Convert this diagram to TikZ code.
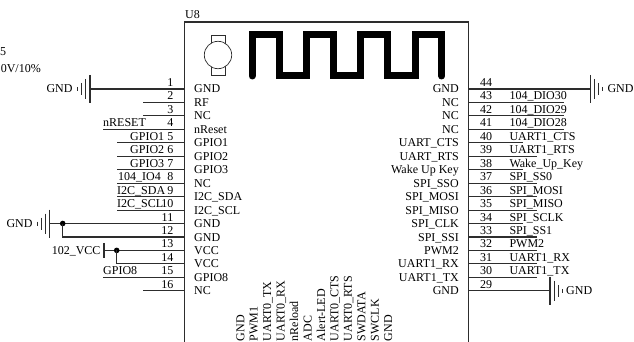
\documentclass[tikz,border=0pt]{standalone}
\usepackage{fontspec}
\setmainfont{Liberation Serif}
\definecolor{wiregray}{RGB}{45,45,45}
\usetikzlibrary{positioning}

\begin{document}
\begin{tikzpicture}[x=1pt, y=-1pt,
      every node/.style={inner sep=0pt, font=\fontsize{12}{14}\selectfont, text=black},
      wire/.style={draw=wiregray, line width=1.1pt},
      namel/.style={anchor=base west, yshift=-4pt},
      namer/.style={anchor=base east, yshift=-4pt},
      numl/.style={anchor=base east, yshift=2.5pt},
      numr/.style={anchor=base west, yshift=2.5pt},
      outl/.style={anchor=base west, yshift=2.5pt},
      botl/.style={anchor=base west, rotate=90},
      gndl/.style={anchor=base east, yshift=-4pt},
      gndr/.style={anchor=base west, yshift=-4pt},
      dot/.style={circle, fill=black, minimum size=5.6pt},
      gndsym/.pic={
        \draw[wiregray, line width=1.1pt] (0,-14) -- (0,14);
        \draw[wiregray, line width=1.1pt] (-4.2,-10) -- (-4.2,10);
        \draw[wiregray, line width=1.1pt] (-8.2,-6) -- (-8.2,6);
        \draw[wiregray, line width=1.1pt] (-12.2,-2) -- (-12.2,2);
      }
    ]
      \useasboundingbox (0,0) rectangle (634,342);

      % Text at the left edge
      \node[anchor=base west] (capa) at (0,56) {5};
      \node[anchor=base east] (capb) at (41,73) {0V/10\%};

      % Module outline
      \coordinate (bl) at (184.5,342);
      \coordinate (tl) at (184.5,22);
      \coordinate (tr) at (468.3,22);
      \coordinate (br) at (468.3,342);
      \draw[wire] (bl) -- (tl) -- (tr) -- (br);
      \node[anchor=base west] (u8) at (185,18.5) {U8};

      % Antenna and motor
      \draw[black, line width=7pt, line cap=round, miter limit=10] (252,76) -- (252,34.7) -- (279.3,34.7) -- (279.3,75.5) -- (306.5,75.5) -- (306.5,34.7) -- (333.5,34.7) -- (333.5,75.5) -- (360.7,75.5) -- (360.7,34.7) -- (387.7,34.7) -- (387.7,75.5) -- (415,75.5) -- (415,34.7) -- (441.7,34.7) -- (441.7,76);
      \draw[wiregray, line width=0.7pt] (211.3,35) rectangle (225,75);
      \draw[wiregray, line width=0.7pt, fill=white] (218,55) circle [radius=13.7pt];

      % Left pins
      \coordinate (pl1) at (184.5,89); \coordinate (el1) at (90,89);
      \draw[wire] (el1) -- (pl1);
      \pic at (el1) {gndsym};
      \node[gndl] (gl1) at (72.7,89) {GND};
      \node[numl] (nl1) at (173.5,89) {1};
      \node[namel] (tl1) at (194,89) {GND};

      \coordinate (pl2) at (184.5,102.5); \coordinate (el2) at (143,102.5);
      \draw[wire] (el2) -- (pl2);
      \node[numl] (nl2) at (173.5,102.5) {2};
      \node[namel] (tl2) at (194,102.5) {RF};

      \coordinate (pl3) at (184.5,115.9); \coordinate (el3) at (143,115.9);
      \draw[wire] (el3) -- (pl3);
      \node[numl] (nl3) at (173.5,115.9) {3};
      \node[namel] (tl3) at (194,115.9) {NC};

      \coordinate (pl4) at (184.5,129.4); \coordinate (el4) at (103,129.4);
      \draw[wire] (el4) -- (pl4);
      \node[outl] (ol4) at (103,129.4) {nRESET};
      \node[numl] (nl4) at (173.5,129.4) {4};
      \node[namel] (tl4) at (194,129.4) {nReset};

      \coordinate (pl5) at (184.5,142.8); \coordinate (el5) at (117,142.8);
      \draw[wire] (el5) -- (pl5);
      \node[outl] (ol5) at (130,142.8) {GPIO1};
      \node[numl] (nl5) at (173.5,142.8) {5};
      \node[namel] (tl5) at (194,142.8) {GPIO1};

      \coordinate (pl6) at (184.5,156.3); \coordinate (el6) at (117,156.3);
      \draw[wire] (el6) -- (pl6);
      \node[outl] (ol6) at (130,156.3) {GPIO2};
      \node[numl] (nl6) at (173.5,156.3) {6};
      \node[namel] (tl6) at (194,156.3) {GPIO2};

      \coordinate (pl7) at (184.5,169.7); \coordinate (el7) at (117,169.7);
      \draw[wire] (el7) -- (pl7);
      \node[outl] (ol7) at (130,169.7) {GPIO3};
      \node[numl] (nl7) at (173.5,169.7) {7};
      \node[namel] (tl7) at (194,169.7) {GPIO3};

      \coordinate (pl8) at (184.5,183.2); \coordinate (el8) at (117,183.2);
      \draw[wire] (el8) -- (pl8);
      \node[outl] (ol8) at (118,183.2) {104\_IO4};
      \node[numl] (nl8) at (173.5,183.2) {8};
      \node[namel] (tl8) at (194,183.2) {NC};

      \coordinate (pl9) at (184.5,196.6); \coordinate (el9) at (117,196.6);
      \draw[wire] (el9) -- (pl9);
      \node[outl] (ol9) at (117,196.6) {I2C\_SDA};
      \node[numl] (nl9) at (173.5,196.6) {9};
      \node[namel] (tl9) at (194,196.6) {I2C\_SDA};

      \coordinate (pl10) at (184.5,210.1); \coordinate (el10) at (117,210.1);
      \draw[wire] (el10) -- (pl10);
      \node[outl] (ol10) at (117,210.1) {I2C\_SCL};
      \node[numl] (nl10) at (173.5,210.1) {10};
      \node[namel] (tl10) at (194,210.1) {I2C\_SCL};

      \coordinate (pl11) at (184.5,223.5); \coordinate (el11) at (49.7,223.5);
      \draw[wire] (el11) -- (pl11);
      \pic at (el11) {gndsym};
      \node[gndl] (gl11) at (32.7,223.5) {GND};
      \node[numl] (nl11) at (173.5,223.5) {11};
      \node[namel] (tl11) at (194,223.5) {GND};

      \coordinate (pl12) at (184.5,237); \coordinate (el12) at (62.7,237);
      \node[dot] (jg) at (62.7,223.5) {};
      \draw[wire] (jg.center) -- (el12) -- (pl12);
      \node[numl] (nl12) at (173.5,237) {12};
      \node[namel] (tl12) at (194,237) {GND};

      \coordinate (pl13) at (184.5,250.4); \coordinate (el13) at (104,250.4);
      \coordinate (tt) at (104,242.9); \coordinate (tb) at (104,257.9);
      \draw[wire] (el13) -- (pl13);
      \draw[wire] (tt) -- (tb);
      \node[anchor=base east, yshift=-4pt] (vcc) at (100.7,250.4) {102\_VCC};
      \node[numl] (nl13) at (173.5,250.4) {13};
      \node[namel] (tl13) at (194,250.4) {VCC};

      \coordinate (pl14) at (184.5,263.9); \coordinate (el14) at (116.7,263.9);
      \node[dot] (jv) at (116.7,250.4) {};
      \draw[wire] (jv.center) -- (el14) -- (pl14);
      \node[numl] (nl14) at (173.5,263.9) {14};
      \node[namel] (tl14) at (194,263.9) {VCC};

      \coordinate (pl15) at (184.5,277.3); \coordinate (el15) at (103,277.3);
      \draw[wire] (el15) -- (pl15);
      \node[outl] (ol15) at (103,277.3) {GPIO8};
      \node[numl] (nl15) at (173.5,277.3) {15};
      \node[namel] (tl15) at (194,277.3) {GPIO8};

      \coordinate (pl16) at (184.5,290.8); \coordinate (el16) at (143,290.8);
      \draw[wire] (el16) -- (pl16);
      \node[numl] (nl16) at (173.5,290.8) {16};
      \node[namel] (tl16) at (194,290.8) {NC};

      % Right pins
      \coordinate (pr44) at (468.3,89); \coordinate (er44) at (590.7,89);
      \draw[wire] (pr44) -- (er44);
      \pic[xscale=-1] at (er44) {gndsym};
      \node[gndr] (gr44) at (607.3,89) {GND};
      \node[numr] (nr44) at (480,89) {44};
      \node[namer] (tr44) at (459,89) {GND};

      \coordinate (pr43) at (468.3,102.5); \coordinate (er43) at (564,102.5);
      \draw[wire] (pr43) -- (er43);
      \node[numr] (nr43) at (480,102.5) {43};
      \node[outl] (or43) at (509.3,102.5) {104\_DIO30};
      \node[namer] (tr43) at (459,102.5) {NC};

      \coordinate (pr42) at (468.3,115.9); \coordinate (er42) at (564,115.9);
      \draw[wire] (pr42) -- (er42);
      \node[numr] (nr42) at (480,115.9) {42};
      \node[outl] (or42) at (509.3,115.9) {104\_DIO29};
      \node[namer] (tr42) at (459,115.9) {NC};

      \coordinate (pr41) at (468.3,129.4); \coordinate (er41) at (564,129.4);
      \draw[wire] (pr41) -- (er41);
      \node[numr] (nr41) at (480,129.4) {41};
      \node[outl] (or41) at (509.3,129.4) {104\_DIO28};
      \node[namer] (tr41) at (459,129.4) {NC};

      \coordinate (pr40) at (468.3,142.8); \coordinate (er40) at (523,142.8);
      \draw[wire] (pr40) -- (er40);
      \node[numr] (nr40) at (480,142.8) {40};
      \node[outl] (or40) at (509.3,142.8) {UART1\_CTS};
      \node[namer] (tr40) at (459,142.8) {UART\_CTS};

      \coordinate (pr39) at (468.3,156.3); \coordinate (er39) at (537,156.3);
      \draw[wire] (pr39) -- (er39);
      \node[numr] (nr39) at (480,156.3) {39};
      \node[outl] (or39) at (509.3,156.3) {UART1\_RTS};
      \node[namer] (tr39) at (459,156.3) {UART\_RTS};

      \coordinate (pr38) at (468.3,169.7); \coordinate (er38) at (523,169.7);
      \draw[wire] (pr38) -- (er38);
      \node[numr] (nr38) at (480,169.7) {38};
      \node[outl] (or38) at (509.3,169.7) {Wake\_Up\_Key};
      \node[namer] (tr38) at (459,169.7) {Wake Up Key};

      \coordinate (pr37) at (468.3,183.2); \coordinate (er37) at (537,183.2);
      \draw[wire] (pr37) -- (er37);
      \node[numr] (nr37) at (480,183.2) {37};
      \node[outl] (or37) at (509.3,183.2) {SPI\_SS0};
      \node[namer] (tr37) at (459,183.2) {SPI\_SSO};

      \coordinate (pr36) at (468.3,196.6); \coordinate (er36) at (537,196.6);
      \draw[wire] (pr36) -- (er36);
      \node[numr] (nr36) at (480,196.6) {36};
      \node[outl] (or36) at (509.3,196.6) {SPI\_MOSI};
      \node[namer] (tr36) at (459,196.6) {SPI\_MOSI};

      \coordinate (pr35) at (468.3,210.1); \coordinate (er35) at (537,210.1);
      \draw[wire] (pr35) -- (er35);
      \node[numr] (nr35) at (480,210.1) {35};
      \node[outl] (or35) at (509.3,210.1) {SPI\_MISO};
      \node[namer] (tr35) at (459,210.1) {SPI\_MISO};

      \coordinate (pr34) at (468.3,223.5); \coordinate (er34) at (523,223.5);
      \draw[wire] (pr34) -- (er34);
      \node[numr] (nr34) at (480,223.5) {34};
      \node[outl] (or34) at (509.3,223.5) {SPI\_SCLK};
      \node[namer] (tr34) at (459,223.5) {SPI\_CLK};

      \coordinate (pr33) at (468.3,237); \coordinate (er33) at (537,237);
      \draw[wire] (pr33) -- (er33);
      \node[numr] (nr33) at (480,237) {33};
      \node[outl] (or33) at (509.3,237) {SPI\_SS1};
      \node[namer] (tr33) at (459,237) {SPI\_SSI};

      \coordinate (pr32) at (468.3,250.4); \coordinate (er32) at (537,250.4);
      \draw[wire] (pr32) -- (er32);
      \node[numr] (nr32) at (480,250.4) {32};
      \node[outl] (or32) at (509.3,250.4) {PWM2};
      \node[namer] (tr32) at (459,250.4) {PWM2};

      \coordinate (pr31) at (468.3,263.9); \coordinate (er31) at (537,263.9);
      \draw[wire] (pr31) -- (er31);
      \node[numr] (nr31) at (480,263.9) {31};
      \node[outl] (or31) at (509.3,263.9) {UART1\_RX};
      \node[namer] (tr31) at (459,263.9) {UART1\_RX};

      \coordinate (pr30) at (468.3,277.3); \coordinate (er30) at (537,277.3);
      \draw[wire] (pr30) -- (er30);
      \node[numr] (nr30) at (480,277.3) {30};
      \node[outl] (or30) at (509.3,277.3) {UART1\_TX};
      \node[namer] (tr30) at (459,277.3) {UART1\_TX};

      \coordinate (pr29) at (468.3,290.8); \coordinate (er29) at (550,290.8);
      \draw[wire] (pr29) -- (er29);
      \pic[xscale=-1] at (er29) {gndsym};
      \node[gndr] (gr29) at (566,290.8) {GND};
      \node[numr] (nr29) at (480,290.8) {29};
      \node[namer] (tr29) at (459,290.8) {GND};

      % Bottom pin names
      \node[botl] (b1) at (244.3,341.5) {GND};
      \node[botl] (b2) at (257.7,341.5) {PWM1};
      \node[botl] (b3) at (271.2,341.5) {UART0\_TX};
      \node[botl] (b4) at (284.6,341.5) {UART0\_RX};
      \node[botl] (b5) at (298.1,341.5) {nReload};
      \node[botl] (b6) at (311.5,341.5) {ADC};
      \node[botl] (b7) at (325,341.5) {Alert-LED};
      \node[botl] (b8) at (338.4,341.5) {UART0\_CTS};
      \node[botl] (b9) at (351.9,341.5) {UART0\_RTS};
      \node[botl] (b10) at (365.3,341.5) {SWDATA};
      \node[botl] (b11) at (378.8,341.5) {SWCLK};
      \node[botl] (b12) at (392.2,341.5) {GND};
    \end{tikzpicture}
\end{document}
